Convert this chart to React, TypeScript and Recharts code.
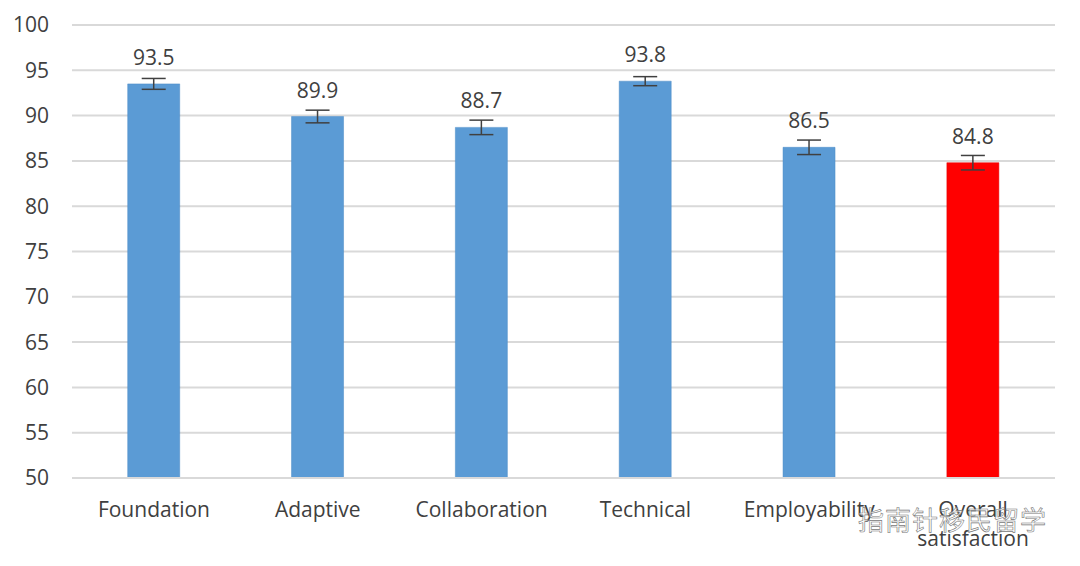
import React from 'react';
import {
  BarChart, Bar, XAxis, YAxis, CartesianGrid, ErrorBar, Cell, LabelList
} from 'recharts';

const categories = ['Foundation', 'Adaptive', 'Collaboration', 'Technical', 'Employability', 'Overall satisfaction'];
const scores = [93.5, 89.9, 88.7, 93.8, 86.5, 84.8];
const errors = [0.6, 0.7, 0.8, 0.5, 0.8, 0.8];
const barColors = ['#5b9bd5', '#5b9bd5', '#5b9bd5', '#5b9bd5', '#5b9bd5', '#ff0000'];
const yTicks = [50, 55, 60, 65, 70, 75, 80, 85, 90, 95, 100];

const data = categories.map((name, i) => ({
  name,
  score: scores[i],
  err: errors[i],
}));

const FONT = '"Open Sans", "Liberation Sans", sans-serif';
const TEXT = '#404040';

const XTick = (props: any) => {
  const { x, y, payload } = props;
  const words: string[] = payload.value === 'Overall satisfaction' ? ['Overall', 'satisfaction'] : [payload.value];
  return (
    <g transform={`translate(${x},${y})`}>
      {words.map((w, i) => (
        <text key={i} x={0} y={31 + i * 29} textAnchor="middle" fill={TEXT} fontSize={21} fontFamily={FONT}>
          {w}
        </text>
      ))}
    </g>
  );
};

const TopLabel = (props: any) => {
  const { x, width, y, value } = props;
  return (
    <text x={x + width / 2} y={y - 19} textAnchor="middle" fill={TEXT} fontSize={21} fontFamily={FONT}>
      {value}
    </text>
  );
};

const App: React.FC = () => {
  return (
    <div style={{ position: 'absolute', left: 0, top: 0, width: 1080, height: 566, background: '#fff' }}>
      <BarChart
        width={1080}
        height={566}
        data={data}
        margin={{ top: 25, right: 25, left: 0, bottom: 58 }}
        barCategoryGap="34%"
      >
        <CartesianGrid vertical={false} stroke="#d9d9d9" strokeWidth={2} />
        <XAxis
          dataKey="name"
          interval={0}
          height={30}
          tickLine={false}
          axisLine={{ stroke: '#d9d9d9', strokeWidth: 2 }}
          tick={<XTick />}
        />
        <YAxis
          width={72}
          domain={[50, 100]}
          ticks={yTicks}
          allowDataOverflow
          tickLine={false}
          axisLine={false}
          tickSize={0}
          tickMargin={23}
          tick={{ fill: TEXT, fontSize: 21, fontFamily: FONT }}
        />
        <Bar dataKey="score" isAnimationActive={false} stroke="#4a8bc6" strokeWidth={0.5}>
          {data.map((d, i) => (
            <Cell key={d.name} fill={barColors[i]} stroke={i === 5 ? '#e00000' : '#4a8bc6'} />
          ))}
          <ErrorBar dataKey="err" width={12} stroke="#404040" strokeWidth={1.5} />
          <LabelList dataKey="score" content={<TopLabel />} />
        </Bar>
      </BarChart>
      <div
        style={{
          position: 'absolute', left: 858, top: 500, fontSize: 26, fontFamily: '"Noto Sans CJK SC", sans-serif',
          color: 'rgba(255,255,255,0.6)', WebkitTextStroke: '0.6px #777', letterSpacing: 1,
        }}
      >
        指南针移民留学
      </div>
    </div>
  );
};

export default App;
